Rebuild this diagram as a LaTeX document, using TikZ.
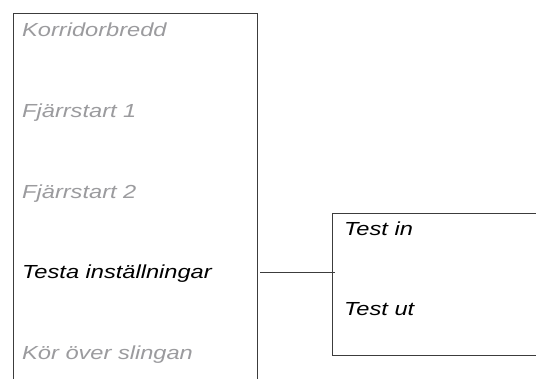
\documentclass[tikz,border=0pt]{standalone}
\usepackage{fontspec}
\usepackage{graphicx}
\setmainfont{Liberation Sans}
\definecolor{txtgray}{RGB}{155,155,158}
\definecolor{linegray}{RGB}{60,60,60}
\tikzset{
  panel/.style={draw=linegray, line width=1.1pt, rectangle, inner sep=0pt, minimum width=0pt},
  item/.style={anchor=base west, inner sep=0pt, font=\fontsize{18.9}{20}\selectfont\itshape},
  dim/.style={item, text=txtgray},
  active/.style={item, text=black},
  link/.style={draw=linegray, line width=1pt}
}
\newcommand{\wide}[1]{\scalebox{1.25}[1]{#1}}
\begin{document}
\begin{tikzpicture}[x=1pt,y=-1pt]
\useasboundingbox (0,0) rectangle (536,378);
\clip (0,0) rectangle (536,378);
\fill[white] (0,0) rectangle (536,378);
\node[panel, minimum width=244pt, minimum height=420pt, anchor=north west] (left) at (12.5,12.5) {};
\node[panel, minimum width=240pt, minimum height=142pt, anchor=north west] (right) at (332,213) {};
\node[dim] (k) at (22,36.5) {\wide{Korridorbredd}};
\node[dim] (f1) at (22,117) {\wide{Fjärrstart 1}};
\node[dim] (f2) at (22,198) {\wide{Fjärrstart 2}};
\node[active] (t) at (22,278) {\wide{Testa inställningar}};
\node[dim] (kor) at (22,359) {\wide{Kör över slingan}};
\node[active] (tin) at (344,235) {\wide{Test in}};
\node[active] (tut) at (344,315) {\wide{Test ut}};
\coordinate (c1) at (260,272);
\coordinate (c2) at (335,272);
\draw[link] (c1) -- (c2);
\end{tikzpicture}
\end{document}
